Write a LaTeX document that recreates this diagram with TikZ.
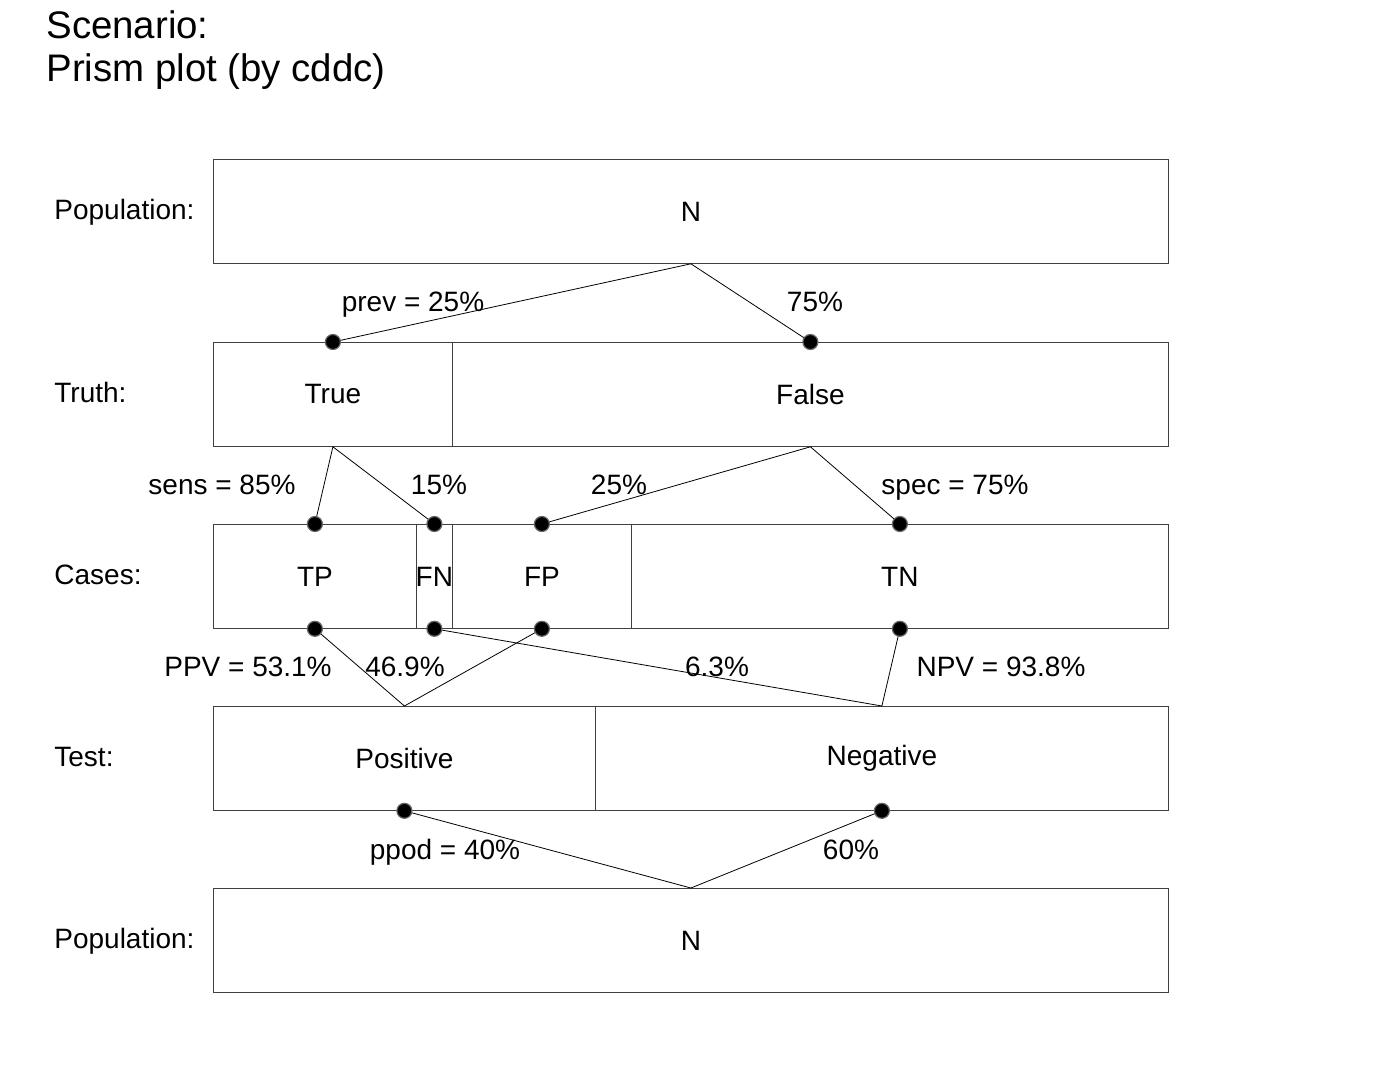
\documentclass[tikz,border=0pt]{standalone}
\usepackage{fontspec}
\setmainfont{Liberation Sans}

\tikzset{
  cell/.style={draw=black!75, minimum width=#1*0.5pt, minimum height=52pt,
    inner sep=0pt, anchor=north west},
  dot/.style={circle, fill=black, draw=black!60, line width=0.6pt, minimum size=7.5pt, inner sep=0pt},
  link/.style={black, line width=0.4pt},
  caps/.style={text height=10pt, text depth=0pt}
}

\begin{document}
\begin{tikzpicture}[x=0.5pt, y=-0.5pt, font=\fontsize{14}{17}\selectfont]
  \useasboundingbox (0,0) rectangle (1382,1076);

  % title
  \node[anchor=west, inner sep=0pt, font=\fontsize{19.2}{23}\selectfont] (title1) at (46,25) {Scenario:};
  \node[anchor=west, inner sep=0pt, font=\fontsize{19.2}{23}\selectfont] (title2) at (46,72) {Prism plot (by cddc)};

  % row names
  \foreach \y/\t [count=\i] in {209/Population:, 392/Truth:, 574/Cases:, 756/Test:, 938/Population:} {
    \node[caps, anchor=west, inner sep=0pt] (row\i) at (54,\y) {\t};
  }

  % cells
  \node[cell=955, label=center:N] (popA) at (213,159) {};
  \node[cell=239, label=center:True] (true) at (213,342) {};
  \node[cell=716, label=center:False] (false) at (452,342) {};
  \node[cell=203, label=center:TP] (tp) at (213,524) {};
  \node[cell=36, label=center:FN] (fn) at (416,524) {};
  \node[cell=179, label=center:FP] (fp) at (452,524) {};
  \node[cell=537, label=center:TN] (tn) at (631,524) {};
  \node[cell=382, label=center:Positive] (pos) at (213,706) {};
  \node[cell=573, label=center:Negative] (neg) at (595,706) {};
  \node[cell=955, label=center:N] (popB) at (213,888) {};

  % links
  \draw[link] (true.north) -- (popA.south) -- (false.north);
  \draw[link] (tp.north) -- (true.south) -- (fn.north);
  \draw[link] (fp.north) -- (false.south) -- (tn.north);
  \draw[link] (tp.south) -- (pos.north) -- (fp.south);
  \draw[link] (fn.south) -- (neg.north) -- (tn.south);
  \draw[link] (pos.south) -- (popB.north) -- (neg.south);

  % dots
  \foreach \c in {true, false, tp, fn, fp, tn} {
    \node[dot] (d\c) at (\c.north) {};
  }
  \foreach \c in {tp, fn, fp, tn, pos, neg} {
    \node[dot] (b\c) at (\c.south) {};
  }

  % rates
  \foreach \x/\y/\t [count=\i] in {413/301/prev = 25\%, 815/301/75\%,
      222/484/sens = 85\%, 439/484/15\%, 619/484/25\%, 955/484/spec = 75\%,
      248/666/PPV = 53.1\%, 405/666/46.9\%, 717/666/6.3\%, 1001/666/NPV = 93.8\%,
      445/849/ppod = 40\%, 851/849/60\%} {
    \node[caps] (rate\i) at (\x,\y) {\t};
  }

\end{tikzpicture}
\end{document}
